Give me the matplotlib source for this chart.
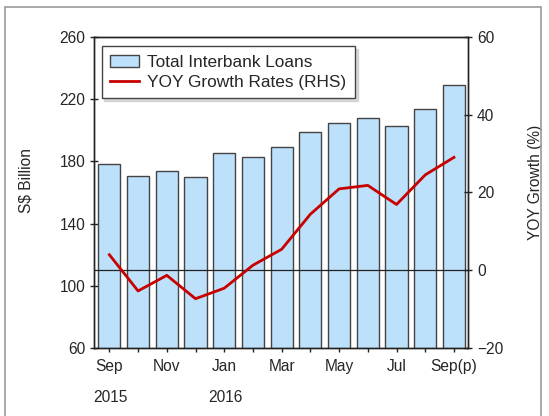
import matplotlib
matplotlib.use("Agg")
import matplotlib.pyplot as plt
from matplotlib.patches import Rectangle

months = ["Sep", "Oct", "Nov", "Dec", "Jan", "Feb", "Mar",
          "Apr", "May", "Jun", "Jul", "Aug", "Sep(p)"]
loans = [178.1, 170.6, 173.6, 170.0, 185.3, 183.0, 189.0,
         198.6, 204.4, 207.8, 202.9, 213.6, 229.2]
growth = [4.0, -5.3, -1.3, -7.3, -4.6, 1.3, 5.4,
          14.4, 20.9, 21.8, 16.9, 24.5, 29.0]
years = {0: "2015", 4: "2016"}

plt.rcParams['font.family'] = ['Liberation Sans', 'DejaVu Sans']
txt = '#262626'
fs = 11.2

fig = plt.figure(figsize=(5.49, 4.16), dpi=100)
ax = fig.add_axes([0.172, 0.163, 0.6805, 0.749])

x = list(range(len(months)))
ax.bar(x, loans, width=0.77, color='#bde0fb', edgecolor='#444444',
       linewidth=1.0, label='Total Interbank Loans', zorder=2)
ax.set_ylim(60, 260)
ax.set_yticks([60, 100, 140, 180, 220, 260])
ax.set_xlim(-0.52, 12.49)
ax.set_xticks(x)
ax.set_xticklabels([m if i % 2 == 0 else "" for i, m in enumerate(months)])
ax.set_ylabel("S$ Billion", fontsize=fs, color=txt)
ax.yaxis.set_label_coords(-0.163, 0.537)

ax2 = ax.twinx()
ax2.axhline(0, color='#222222', linewidth=0.9, zorder=1)
ax2.plot(x, growth, color='#c80000', linewidth=2.0,
         label='YOY Growth Rates (RHS)', zorder=3)
ax2.set_ylim(-20, 60)
ax2.set_yticks([-20, 0, 20, 40, 60])
ax2.set_ylabel("YOY Growth (%)", fontsize=fs, color=txt)
ax2.yaxis.set_label_coords(1.16, 0.532)

for a in (ax, ax2):
    a.tick_params(direction='inout', length=6, width=1, labelsize=fs,
                  labelcolor=txt, color='#222222')
    for s in a.spines.values():
        s.set_color('#222222')
        s.set_linewidth(1.0)
ax.tick_params(axis='x', pad=5)

for i, y in years.items():
    ax.text(i + 0.05, -0.158, y, transform=ax.get_xaxis_transform(),
            ha='center', va='center', fontsize=fs, color=txt)

h1, l1 = ax.get_legend_handles_labels()
h2, l2 = ax2.get_legend_handles_labels()
leg = ax2.legend(h1 + h2, l1 + l2, loc='upper left',
                 bbox_to_anchor=(0.019, 0.97), fontsize=12.4,
                 fancybox=False, shadow={'color': '#b8b8b8'}, framealpha=1,
                 edgecolor='#444444', borderpad=0.5, handlelength=1.7,
                 handletextpad=0.45, labelspacing=0.3, borderaxespad=0)
for t in leg.get_texts():
    t.set_color(txt)

fig.patches.append(Rectangle((5 / 549, -0.05), 536 / 549, 1.05 - 7 / 416,
                             transform=fig.transFigure, fill=False,
                             edgecolor='#999999', linewidth=1.2))

fig.savefig("out.png", dpi=100)
